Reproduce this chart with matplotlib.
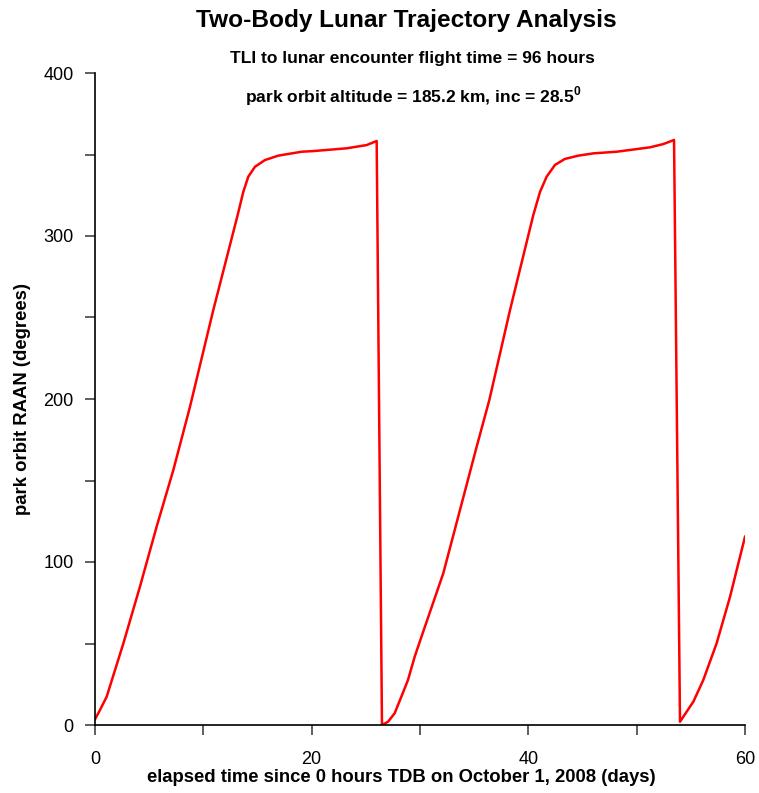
import numpy as np
import matplotlib.pyplot as plt
from matplotlib.ticker import MultipleLocator

plt.rcParams['font.family'] = ['Liberation Sans', 'DejaVu Sans']
plt.rcParams['mathtext.fontset'] = 'custom'
plt.rcParams['mathtext.rm'] = 'Liberation Sans'
plt.rcParams['mathtext.bf'] = 'Liberation Sans:bold'

# elapsed time (days) and park orbit RAAN (degrees)
days = [0.0, 0.46, 1.08, 2.62, 4.15, 5.69, 7.23, 8.77, 10.92, 13.17, 13.69,
        14.15, 14.77, 15.69, 16.92, 19.08, 20.15, 23.23, 25.08, 26.0,
        26.49, 27.05, 27.66, 28.28, 28.89, 29.51, 30.03, 32.15, 33.69, 35.23,
        36.4, 38.31, 40.46, 41.08, 41.69, 42.46, 43.38, 44.62, 46.0, 48.15,
        51.23, 52.46, 53.45,
        54.0, 55.23, 56.15, 57.38, 58.62, 60.0]
raan = [3.5, 9.2, 17.4, 50.1, 84.9, 121.7, 156.4, 195.3, 254.6, 312.9, 327.1,
        336.4, 342.5, 346.6, 349.3, 351.7, 352.1, 353.8, 355.8, 358.3,
        0.0, 2.0, 7.2, 17.4, 27.6, 41.9, 52.1, 93.1, 131.9, 170.7,
        199.4, 254.6, 312.9, 327.1, 336.4, 343.6, 347.3, 349.3, 350.7, 351.7,
        354.4, 356.4, 358.9,
        2.0, 14.3, 27.6, 50.1, 78.7, 115.5]

title = 'Two-Body Lunar Trajectory Analysis'
sub1 = 'TLI to lunar encounter flight time = 96 hours'
sub2 = r'park orbit altitude = 185.2 km, inc = 28.5$^{\mathbf{0}}$'


def main():
    fig = plt.figure(figsize=(7.59, 7.93), dpi=100)
    ax = fig.add_axes([95/759, 1-725/793, 650/759, 652/793])
    ax.plot(days, raan, color='red', lw=1.8, solid_joinstyle='round')

    ax.set_xlim(0, 60)
    ax.set_ylim(0, 400)
    ax.xaxis.set_major_locator(MultipleLocator(20))
    ax.xaxis.set_minor_locator(MultipleLocator(10))
    ax.yaxis.set_major_locator(MultipleLocator(100))
    ax.yaxis.set_minor_locator(MultipleLocator(50))
    for s in ['top', 'right']:
        ax.spines[s].set_visible(False)
    for s in ['left', 'bottom']:
        ax.spines[s].set_linewidth(1.2)
    ax.tick_params(which='both', direction='out', length=7.5, width=1.1,
                   color='#333333', labelsize=13)
    ax.tick_params(axis='x', which='major', pad=11)
    ax.tick_params(axis='y', which='major', pad=8)

    # axis titles, placed where the reference has them
    ax.set_xlabel('elapsed time since 0 hours TDB on October 1, 2008 (days)',
                  fontsize=13.3, fontweight='bold')
    ax.xaxis.set_label_coords(0.472, -0.081)
    ax.xaxis.label.set_va('center')
    ax.set_ylabel('park orbit RAAN (degrees)', fontsize=13.3, fontweight='bold')
    ax.yaxis.set_label_coords(-0.112, 0.5)
    ax.yaxis.label.set_va('center')

    fig.text(406/759, 1-20/793, title, ha='center', va='center',
             fontsize=17.6, fontweight='bold')
    fig.text(412/759, 1-59/793, sub1, ha='center', va='center',
             fontsize=12.5, fontweight='bold')
    fig.text(413/759, 1-96/793, sub2, ha='center', va='center',
             fontsize=12.5, fontweight='bold')

    plt.savefig('out.png', dpi=100)


if __name__ == "__main__":
    main()
